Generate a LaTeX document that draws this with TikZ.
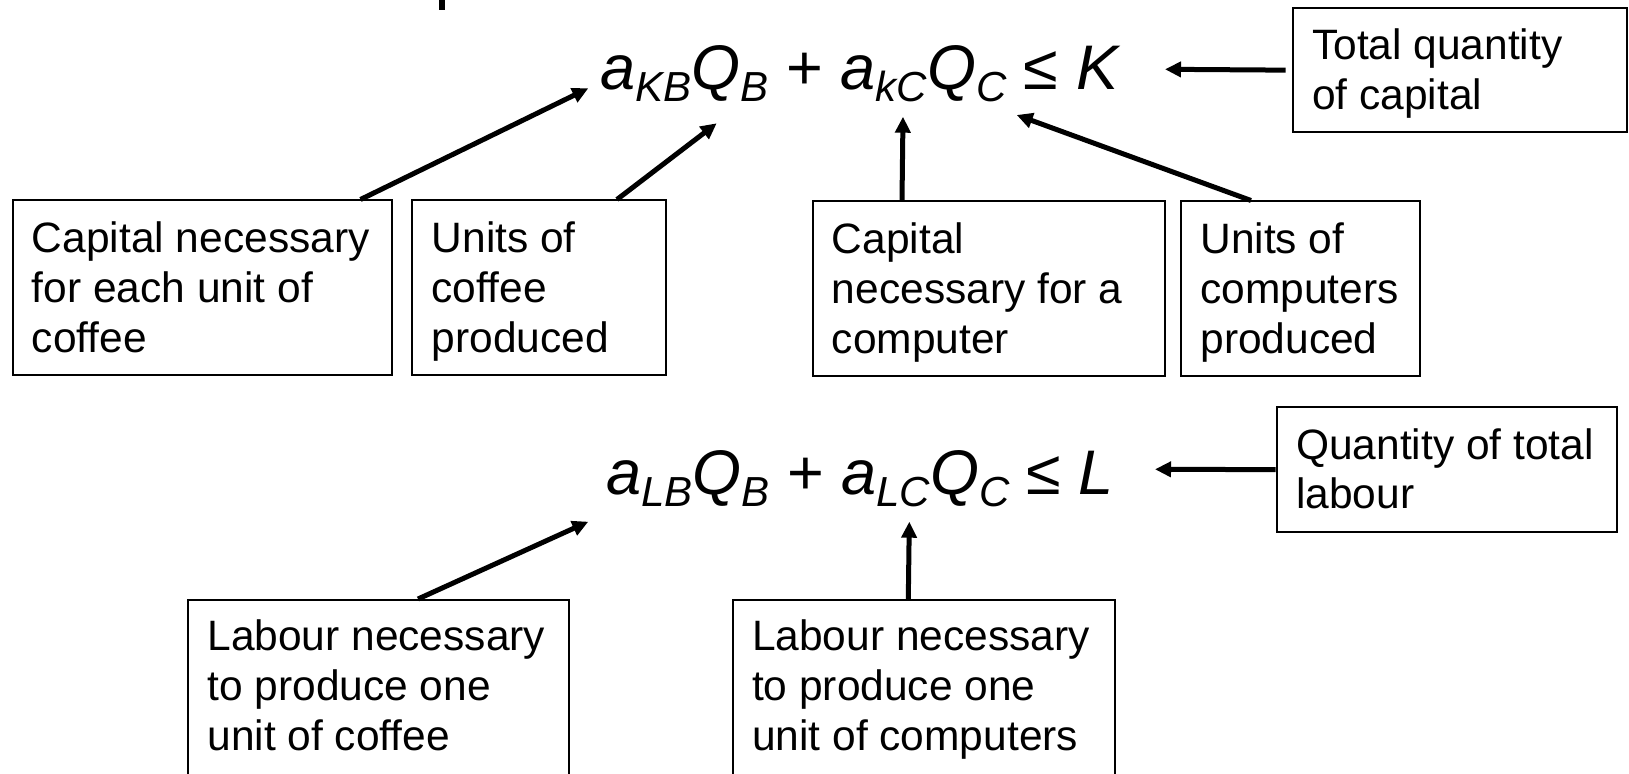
\documentclass[tikz,border=0pt]{standalone}
\usepackage{fontspec}
\setmainfont{Liberation Sans}
\usetikzlibrary{calc,fit,arrows.meta}
\newcommand\dsub[1]{\raisebox{-5.85pt}{\fontsize{21}{21}\selectfont\itshape #1}}
\newcommand\eqfnt{\fontsize{31.5}{31.5}\selectfont}
\tikzset{
  boxnode/.style={draw=black, line width=1pt, inner sep=0pt, rectangle},
  txt/.style={inner sep=0pt, align=left, anchor=base west, font=\fontsize{21.25}{24.85}\selectfont},
  eqn/.style={inner sep=0pt, anchor=base west, font=\eqfnt},
  arr/.style={line width=2.5pt, -{Triangle[length=8pt,width=7.5pt]}}
}
\begin{document}
\begin{tikzpicture}[x=0.5pt,y=-0.5pt]
\useasboundingbox (0,0) rectangle (1629,774);
\fill[white] (0,0) rectangle (1629,774);
% cut-off glyph at top
\fill[black] (439.3,0) rectangle (445.3,10);

% equations
\node[eqn] (e1) at (600.5,90) {\itshape a\dsub{KB}Q\dsub{B}\upshape{} + \itshape a\dsub{kC}Q\dsub{C}\upshape{} ≤ \itshape K};
\node[eqn] (e2) at (605.7,495) {\itshape a\dsub{LB}Q\dsub{B}\upshape{} + \itshape a\dsub{LC}Q\dsub{C}\upshape{} ≤ \itshape L};

% boxes
\node[boxnode, fit={(12.5,200.5) (391.7,375)}] (b1) {};
\node[boxnode, fit={(412.3,200.5) (666,375)}] (b2) {};
\node[boxnode, fit={(812.5,201.5) (1165,376)}] (b3) {};
\node[boxnode, fit={(1181,201.5) (1420,376)}] (b4) {};
\node[boxnode, fit={(1292.7,8.3) (1627,132)}] (b5) {};
\node[boxnode, fit={(1276.7,407.3) (1616.7,532)}] (b6) {};
\node[boxnode, fit={(188,600) (569.3,800)}] (b7) {};
\node[boxnode, fit={(732.7,600) (1115,800)}] (b8) {};

% texts (base anchor = baseline of last line)
\node[txt] (t1) at ($(b1.north west)+(20,152.9)$) {Capital necessary\\for each unit of\\coffee};
\node[txt] (t2) at ($(b2.north west)+(20,152.9)$) {Units of\\coffee\\produced};
\node[txt] (t3) at ($(b3.north west)+(20,152.9)$) {Capital\\necessary for a\\computer};
\node[txt] (t4) at ($(b4.north west)+(20,152.9)$) {Units of\\computers\\produced};
\node[txt] (t5) at ($(b5.north west)+(20,102.2)$) {Total quantity\\of capital};
\node[txt] (t6) at ($(b6.north west)+(20,102.7)$) {Quantity of total\\labour};
\node[txt] (t7) at ($(b7.north west)+(20,151.4)$) {Labour necessary\\to produce one\\unit of coffee};
\node[txt] (t8) at ($(b8.north west)+(20,151.4)$) {Labour necessary\\to produce one\\unit of computers};

% arrow tips
\coordinate (p1) at (588.3,88.3);
\coordinate (p2) at (716.7,123.3);
\coordinate (p3) at (903,116.7);
\coordinate (p4) at (1016.7,115);
\coordinate (p5) at (1165,69.3);
\coordinate (p6) at (588.3,521.7);
\coordinate (p7) at (909.3,521.7);
\coordinate (p8) at (1155,469.3);

% connectors
\draw[arr] ($(b1.north west)+(349,0)$) -- (p1);
\draw[arr] ($(b2.north west)+(205.7,0)$) -- (p2);
\draw[arr] ($(b3.north west)+(90.5,0)$) -- (p3);
\draw[arr] ($(b4.north west)+(71,0)$) -- (p4);
\draw[arr] ($(b5.west)+(-6,0)$) -- (p5);
\draw[arr] ($(b7.north west)+(231,0)$) -- (p6);
\draw[arr] ($(b8.north west)+(176.6,0)$) -- (p7);
\draw[arr] (b6.west) -- (p8);
\end{tikzpicture}
\end{document}
